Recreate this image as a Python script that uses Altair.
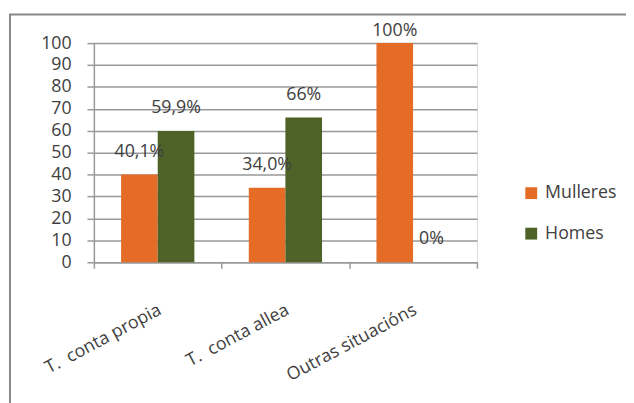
import altair as alt
import pandas as pd

categories = ["T. \u00a0conta propia", "T. \u00a0conta allea", "Outras situacións"]
series = ["Mulleres", "Homes"]
mulleres = [40.1, 34.0, 100]
homes = [59.9, 66, 0]
mulleres_labels = ["40,1%", "34,0%", "100%"]
homes_labels = ["59,9%", "66%", "0%"]
colors = ["#E46C26", "#4F6228"]
y_ticks = list(range(0, 101, 10))

rows = []
for i, c in enumerate(categories):
    rows.append({"cat": c, "serie": series[0], "value": mulleres[i], "label": mulleres_labels[i]})
    rows.append({"cat": c, "serie": series[1], "value": homes[i], "label": homes_labels[i]})
df = pd.DataFrame(rows)

FONT = "Open Sans"
TXT = "#404040"
GRID = "#999999"

x_axis = alt.Axis(
    title=None, grid=False, tickBand="extent", domainColor=GRID, domainWidth=1.5,
    tickColor=GRID, tickWidth=1.5, tickSize=6, labelAngle=332, labelAlign="right",
    labelBaseline="middle", labelPadding=41, labelOffset=2, labelFont=FONT,
    labelFontSize=18, labelColor=TXT,
)
y_axis = alt.Axis(
    title=None, values=y_ticks, grid=True, gridColor=GRID, gridWidth=1.5,
    domainColor=GRID, domainWidth=1.5, tickColor=GRID, tickWidth=1.5, tickSize=7,
    labelPadding=16, labelFont=FONT, labelFontSize=18, labelColor=TXT,
    labelOverlap=False,
)
x_scale = alt.Scale(paddingInner=0, paddingOuter=0)
xoff = alt.XOffset("serie:N", sort=series, scale=alt.Scale(paddingInner=0, paddingOuter=0.743))
y_scale = alt.Scale(domain=[0, 100])

bars = alt.Chart(df).mark_bar().encode(
    x=alt.X("cat:N", sort=categories, scale=x_scale, axis=x_axis),
    xOffset=xoff,
    y=alt.Y("value:Q", scale=y_scale, axis=y_axis),
    color=alt.Color("serie:N", sort=series, scale=alt.Scale(domain=series, range=colors),
                    legend=alt.Legend(
                        title=None, orient="none", legendX=434, legendY=143,
                        symbolType="square", symbolSize=144, symbolStrokeWidth=0,
                        labelFont=FONT, labelFontSize=18, labelColor=TXT,
                        labelOffset=5, rowPadding=23, padding=0,
                    )),
)

labels = alt.Chart(df).transform_calculate(
    lab_y="min(datum.value, 95)"
).mark_text(font=FONT, fontSize=18, color=TXT, dy=-23, baseline="middle").encode(
    x=alt.X("cat:N", sort=categories, scale=x_scale, axis=x_axis),
    xOffset=xoff,
    y=alt.Y("lab_y:Q", scale=y_scale, axis=y_axis),
    text="label:N",
)

border = alt.Chart(alt.Data(values=[{}])).mark_rect(
    fillOpacity=0, stroke="#888888", strokeWidth=2
).encode(
    x=alt.value(-85), x2=alt.value(700), y=alt.value(-29), y2=alt.value(450)
)

chart = alt.layer(border, bars, labels).properties(
    width=388, height=222,
    autosize=alt.AutoSizeParams(type="none"),
    padding={"left": 87, "top": 33, "right": 151, "bottom": 140},
).configure_view(strokeWidth=0).configure(background="white")

chart.save("out.html", embed_options={"renderer": "svg", "actions": False})
